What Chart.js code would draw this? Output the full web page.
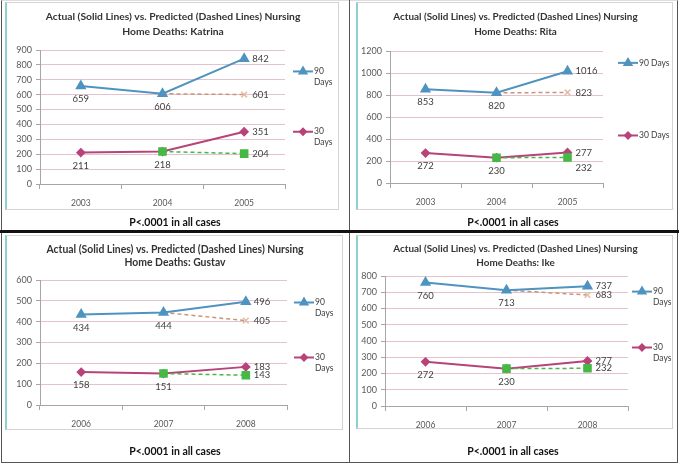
<!DOCTYPE html>
<html>
<head>
<meta charset="utf-8">
<script src="https://cdn.jsdelivr.net/npm/chart.js@4"></script>
<style>
  html, body { margin: 0; padding: 0; background: #fff; }
  body { width: 681px; height: 466px; position: relative; overflow: hidden; font-family: Lato, "Noto Sans", sans-serif; }
  .abs { position: absolute; }
  .box { position: absolute; box-sizing: border-box; border: 1px solid #d9d2d4; border-left: 2px solid #8fd2cd; pointer-events: none; }
  .ptext { position: absolute; width: 340px; text-align: center; font-weight: bold; font-size: 10.5px; color: #111; }
  canvas { position: absolute; }
</style>
</head>
<body>
<!-- frame -->
<div class="abs" style="left:1px;top:0;width:677px;height:463px;border:1px solid #555;border-top-color:#ddd;box-sizing:border-box;"></div>
<div class="abs" style="left:349px;top:0;width:1px;height:463px;background:#555;"></div>
<div class="abs" style="left:0;top:230px;width:679px;height:3px;background:#111;"></div>

<canvas id="katrina" width="334" height="208" style="left:5px;top:2px;"></canvas>
<div class="box" style="left:5px;top:2px;width:334px;height:208px;"></div>
<div class="ptext" style="left:5px;top:216px;">P&lt;.0001 in all cases</div>

<canvas id="rita" width="317" height="208" style="left:356px;top:2px;"></canvas>
<div class="box" style="left:356px;top:2px;width:317px;height:208px;"></div>
<div class="ptext" style="left:343px;top:216px;">P&lt;.0001 in all cases</div>

<canvas id="gustav" width="338" height="195" style="left:5px;top:235px;"></canvas>
<div class="box" style="left:5px;top:235px;width:338px;height:195px;"></div>
<div class="ptext" style="left:5px;top:445px;">P&lt;.0001 in all cases</div>

<canvas id="ike" width="317" height="194" style="left:356px;top:235px;"></canvas>
<div class="box" style="left:356px;top:235px;width:317px;height:194px;"></div>
<div class="ptext" style="left:343px;top:445px;">P&lt;.0001 in all cases</div>

<script>
// ── data ────────────────────────────────────────────────────────────────
var seriesNames = ['90 Days', '30 Days'];
var titleLine1  = 'Actual (Solid Lines) vs. Predicted (Dashed Lines) Nursing';

var katrinaYears   = ['2003', '2004', '2005'];
var katrina90      = [659, 606, 842];
var katrina90Pred  = [null, 606, 601];
var katrina30      = [211, 218, 351];
var katrina30Pred  = [null, 218, 204];
var katrinaTicks   = { max: 900, step: 100 };

var ritaYears      = ['2003', '2004', '2005'];
var rita90         = [853, 820, 1016];
var rita90Pred     = [null, 820, 823];
var rita30         = [272, 230, 277];
var rita30Pred     = [null, 230, 232];
var ritaTicks      = { max: 1200, step: 200 };

var gustavYears    = ['2006', '2007', '2008'];
var gustav90       = [434, 444, 496];
var gustav90Pred   = [null, 444, 405];
var gustav30       = [158, 151, 183];
var gustav30Pred   = [null, 151, 143];
var gustavTicks    = { max: 600, step: 100 };

var ikeYears       = ['2006', '2007', '2008'];
var ike90          = [760, 713, 737];
var ike90Pred      = [null, 713, 683];
var ike30          = [272, 230, 277];
var ike30Pred      = [null, 230, 232];
var ikeTicks       = { max: 800, step: 100 };

// ── styles ──────────────────────────────────────────────────────────────
var BLUE  = '#4f93c0';
var PINK  = '#b8427a';
var GREEN = '#45b845';
var TAN   = '#c99574';
var GRID  = '#e5c2cf';
var AXIS  = '#a6a6a6';
var TEXT  = '#404040';
var FONT  = 'Lato';

// title, point labels + legend drawn by hand (Excel style)
var excelBits = {
    id: 'excelBits',
    afterDraw: function (chart) {
        var ctx = chart.ctx, area = chart.chartArea;
        var lay = chart.options.plugins.excelBits;
        ctx.save();

        // title
        ctx.fillStyle = '#333';
        ctx.font = 'bold ' + lay.titleSize + 'px ' + FONT;
        ctx.textAlign = 'center';
        ctx.textBaseline = 'middle';
        ctx.fillText(titleLine1, chart.width / 2 + 1, lay.titleY[0]);
        ctx.fillText('Home Deaths: ' + lay.title, chart.width / 2 + 1, lay.titleY[1]);

        // data labels
        ctx.font = '9.5px ' + FONT;
        ctx.fillStyle = TEXT;
        var right = [];
        chart.data.datasets.forEach(function (ds, di) {
            var meta = chart.getDatasetMeta(di);
            var last = ds.data.length - 1;
            meta.data.forEach(function (pt, i) {
                var v = ds.data[i];
                if (v == null) return;
                if (ds.predicted && i < last) return;
                if (i === last) {
                    right.push({ x: pt.x + 8, y: pt.y, t: String(v) });
                } else {
                    ctx.textAlign = 'center';
                    ctx.textBaseline = 'middle';
                    ctx.fillText(String(v), pt.x, pt.y + 13);
                }
            });
        });
        right.sort(function (a, b) { return a.y - b.y; });
        for (var k = 1; k < right.length; k++) {
            if (right[k].y - right[k - 1].y < 7) right[k].y += 10;
        }
        ctx.textAlign = 'left';
        ctx.textBaseline = 'middle';
        right.forEach(function (r) { ctx.fillText(r.t, r.x, r.y); });

        // legend
        ctx.font = '8.5px ' + FONT;
        var n = 0;
        chart.data.datasets.forEach(function (ds) {
            if (ds.predicted) return;
            var y = area.top + lay.legendY[n] * area.height;
            var x0 = area.right + lay.legendGap;
            ctx.strokeStyle = ds.borderColor;
            ctx.fillStyle = ds.borderColor;
            ctx.lineWidth = 2;
            ctx.beginPath();
            ctx.moveTo(x0, y);
            ctx.lineTo(x0 + 20, y);
            ctx.stroke();
            Chart.helpers.drawPoint(ctx, { pointStyle: ds.pointStyle, radius: ds.pointRadius - 0.5, rotation: 0, borderWidth: 1 }, x0 + 10, y);
            ctx.fillStyle = TEXT;
            var tx = x0 + 21, avail = chart.width - tx - 1;
            var words = ds.label.split(' '), lines = [], cur = '';
            words.forEach(function (w) {
                var test = cur ? cur + ' ' + w : w;
                if (cur && ctx.measureText(test).width > avail) { lines.push(cur); cur = w; }
                else cur = test;
            });
            lines.push(cur);
            lines.forEach(function (l, li) { ctx.fillText(l, tx, y + li * 11); });
            n++;
        });
        ctx.restore();
    }
};

function makeChart(id, years, s90, p90, s30, p30, ticks, lay) {
    return new Chart(document.getElementById(id), {
        type: 'line',
        data: {
            labels: years,
            datasets: [{
                label: seriesNames[0],
                data: s90,
                borderColor: BLUE, backgroundColor: BLUE,
                borderWidth: 2, pointStyle: 'triangle', pointRadius: 4.5,
                order: 1
            }, {
                label: seriesNames[0] + ' predicted',
                data: p90, predicted: true,
                borderColor: TAN, backgroundColor: '#e6c3aa',
                borderWidth: 1.5, borderDash: [4, 3],
                pointStyle: 'crossRot', pointRadius: [0, 0, 4], pointBorderColor: '#e2bda3',
                order: 2
            }, {
                label: seriesNames[1],
                data: s30,
                borderColor: PINK, backgroundColor: PINK,
                borderWidth: 2, pointStyle: 'rectRot', pointRadius: 3.5,
                order: 3
            }, {
                label: seriesNames[1] + ' predicted',
                data: p30, predicted: true,
                borderColor: GREEN, backgroundColor: GREEN,
                borderWidth: 1.5, borderDash: [4, 3],
                pointStyle: 'rect', pointRadius: 5,
                order: 0
            }]
        },
        options: {
            responsive: false,
            animation: false,
            layout: { padding: { left: 0, right: lay.right, top: lay.plotTop, bottom: 0 } },
            plugins: {
                legend: { display: false },
                tooltip: { enabled: false },
                title: { display: false },
                excelBits: lay
            },
            scales: {
                x: {
                    offset: true,
                    afterFit: function (s) { s.height = lay.xAxisH; },
                    grid: { offset: true, drawOnChartArea: false, tickLength: 5, tickColor: AXIS, color: AXIS },
                    border: { color: AXIS },
                    ticks: { color: '#595959', font: { family: FONT, size: 8.5 }, padding: 9 }
                },
                y: {
                    min: 0, max: ticks.max,
                    afterFit: function (s) { s.width = lay.yAxisW; },
                    grid: { color: GRID, tickLength: 4, tickColor: AXIS },
                    border: { color: AXIS },
                    ticks: {
                        stepSize: ticks.step, color: '#595959', font: { family: FONT, size: 9 }, padding: 4,
                        callback: function (v) { return String(v); }
                    }
                }
            }
        },
        plugins: [excelBits]
    });
}

makeChart('katrina', katrinaYears, katrina90, katrina90Pred, katrina30, katrina30Pred, katrinaTicks,
    { title: 'Katrina', titleSize: 10.3, titleY: [15, 30], plotTop: 48,
      right: 54, yAxisW: 35, xAxisH: 26, legendGap: 8, legendY: [0.16, 0.61] });
makeChart('rita', ritaYears, rita90, rita90Pred, rita30, rita30Pred, ritaTicks,
    { title: 'Rita', titleSize: 9.9, titleY: [15, 29.5], plotTop: 49,
      right: 70, yAxisW: 34, xAxisH: 27, legendGap: 15, legendY: [0.09, 0.64] });
makeChart('gustav', gustavYears, gustav90, gustav90Pred, gustav30, gustav30Pred, gustavTicks,
    { title: 'Gustav', titleSize: 10.4, titleY: [15, 28], plotTop: 45,
      right: 56, yAxisW: 35, xAxisH: 25, legendGap: 7, legendY: [0.18, 0.62] });
makeChart('ike', ikeYears, ike90, ike90Pred, ike30, ike30Pred, ikeTicks,
    { title: 'Ike', titleSize: 9.9, titleY: [14, 28], plotTop: 41,
      right: 45, yAxisW: 29, xAxisH: 23, legendGap: 4, legendY: [0.12, 0.55] });
</script>
</body>
</html>
